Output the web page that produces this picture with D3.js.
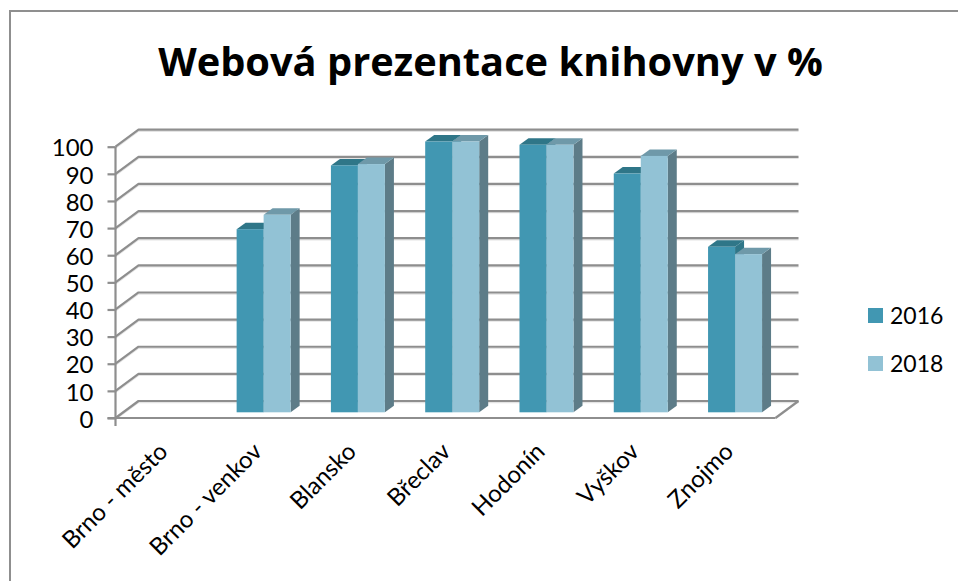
<!DOCTYPE html>
<html>
<head>
<meta charset="utf-8">
<script src="https://cdn.jsdelivr.net/npm/d3@7"></script>
<style>
  html, body { margin: 0; padding: 0; background: #fff; }
  svg { display: block; }
  text { fill: #000; }
</style>
</head>
<body>
<svg width="958" height="581"></svg>
<script>
// data
var categories = ["Brno - město", "Brno - venkov", "Blansko", "Břeclav", "Hodonín", "Vyškov", "Znojmo"];
var years = ["2016", "2018"];
var values2016 = [null, 67.5, 91, 99.8, 98.6, 88, 61];
var values2018 = [null, 72.8, 91.5, 99.8, 98.6, 94.5, 58.3];
var yTicks = [0, 10, 20, 30, 40, 50, 60, 70, 80, 90, 100];

var fontName = "Lato, 'Open Sans', sans-serif";
var titleFont = "'Open Sans', sans-serif";
var gridColor = "#8e8e8e";

// front face colours, then top and side of the 3d bars
var frontColors = ["#4197b2", "#92c2d5"];
var topColors = ["#2f7688", "#6f99a9"];
var sideColors = ["#2f7688", "#5d7c88"];

var svg = d3.select("svg");

// plot box of the front plane
var left = 115.5, right = 775.5, top0 = 146.7, bottom = 418;
// how far the back wall is shifted from the front plane
var wallDx = 23, wallDy = -17;
// bar depth and how far the bar stands from the front plane
var depthDx = 9, depthDy = -6.5;
var insetDx = 7, insetDy = -5.7;

var x = d3.scaleBand().domain(categories).range([left, right]);
var y = d3.scaleLinear().domain([0, 100]).range([bottom, top0]);
var barX = d3.scaleBand().domain(years).range([0, 54]);

/* outer frame, only left and top are visible */
svg.append("path")
  .attr("d", d3.line()([[10, 581], [10, 11], [958, 11]]))
  .attr("fill", "none")
  .attr("stroke", "#8f8f8f")
  .attr("stroke-width", 2);

svg.append("text")
  .attr("x", 490.5)
  .attr("y", 76)
  .attr("text-anchor", "middle")
  .attr("font-family", titleFont)
  .attr("font-weight", "bold")
  .attr("font-size", 39.8)
  .text("Webová prezentace knihovny v %");

/* back wall lines with the diagonal part running to the front */
var grid = svg.append("g").attr("fill", "none").attr("stroke-linejoin", "round");

function wallLine(d) {
  return d3.line()([[left, y(d)], [left + wallDx, y(d) + wallDy], [right + wallDx, y(d) + wallDy]]);
}

grid.selectAll(".glow").data(yTicks).enter().append("path")
  .attr("d", wallLine)
  .attr("transform", "translate(0,1.5)")
  .attr("stroke", "#e4e4e4")
  .attr("stroke-width", 1.5);

grid.selectAll(".line").data(yTicks).enter().append("path")
  .attr("d", wallLine)
  .attr("stroke", gridColor)
  .attr("stroke-width", 2.2);

// right edge of the floor
grid.append("path")
  .attr("d", d3.line()([[right, bottom], [right + wallDx, bottom + wallDy]]))
  .attr("stroke", gridColor)
  .attr("stroke-width", 2.2);

/* bars */
function drawBars(values, i) {
  var year = years[i];
  var rows = categories
    .map(function(c, k) { return { cat: c, val: values[k] }; })
    .filter(function(d) { return d.val != null; });

  var g = svg.append("g").attr("class", "bars" + year);

  function x0(d) {
    var groupStart = x(d.cat) + (x.bandwidth() - barX.range()[1]) / 2 + insetDx - 0.3;
    return groupStart + barX(year);
  }
  function y0(d) { return y(d.val) + insetDy; }
  function yBase() { return y(0) + insetDy; }

  // side face
  g.selectAll(".side").data(rows).enter().append("path")
    .attr("fill", sideColors[i])
    .attr("d", function(d) {
      var xr = x0(d) + barX.bandwidth();
      return d3.line()([[xr, y0(d)], [xr + depthDx, y0(d) + depthDy], [xr + depthDx, yBase() + depthDy], [xr, yBase()]]) + "Z";
    });

  // top face
  g.selectAll(".topface").data(rows).enter().append("path")
    .attr("fill", topColors[i])
    .attr("d", function(d) {
      var w = barX.bandwidth();
      return d3.line()([[x0(d), y0(d)], [x0(d) + depthDx, y0(d) + depthDy], [x0(d) + w + depthDx, y0(d) + depthDy], [x0(d) + w, y0(d)]]) + "Z";
    });

  // front face
  g.selectAll(".front").data(rows).enter().append("rect")
    .attr("x", x0)
    .attr("y", y0)
    .attr("width", barX.bandwidth())
    .attr("height", function(d) { return yBase() - y0(d); })
    .attr("fill", frontColors[i]);
}

drawBars(values2016, 0);
drawBars(values2018, 1);

/* axes, drawn over the diagonal lines */
var yAxis = d3.axisLeft(y).tickValues(yTicks).tickSize(8).tickPadding(14);
var yG = svg.append("g").attr("transform", "translate(" + left + ",0)").call(yAxis);

var xAxis = d3.axisBottom(x).tickSize(0).tickFormat("");
var xG = svg.append("g").attr("transform", "translate(0," + bottom + ")").call(xAxis);

// ticks on the category borders, not on the centres
xG.selectAll(".border").data(d3.range(categories.length + 1)).enter().append("line")
  .attr("x1", function(d) { return left + d * x.step(); })
  .attr("x2", function(d) { return left + d * x.step(); })
  .attr("y1", 0)
  .attr("y2", 8);

// extend the lines past the plot like the original does
yG.select(".domain").attr("d", d3.line()([[0, top0], [0, bottom + 8]]));
xG.select(".domain").attr("d", d3.line()([[left - 8, 0], [right, 0]]));

svg.selectAll(".domain, .tick line, .border")
  .attr("stroke", gridColor)
  .attr("stroke-width", 2.2);

yG.selectAll("text")
  .attr("font-family", fontName)
  .attr("font-size", 24)
  .attr("y", 1.5)
  .attr("fill", "#000");

svg.append("g").selectAll("text").data(categories).enter().append("text")
  .attr("text-anchor", "end")
  .attr("font-family", fontName)
  .attr("font-size", 24)
  .attr("transform", function(d) {
    return "translate(" + (x(d) + x.bandwidth() / 2 + 6.5) + "," + (bottom + 35) + ") rotate(-45)";
  })
  .text(function(d) { return d; });

/* legend */
var legendY = d3.scalePoint().domain(years).range([315.5, 363.5]);
var legend = svg.append("g").selectAll("g").data(years).enter().append("g")
  .attr("transform", function(d) { return "translate(868," + legendY(d) + ")"; });

legend.append("rect")
  .attr("y", -7.5)
  .attr("width", 15)
  .attr("height", 15)
  .attr("fill", function(d, i) { return frontColors[i]; });

legend.append("text")
  .attr("x", 22)
  .attr("y", 8)
  .attr("font-family", fontName)
  .attr("font-size", 23)
  .text(function(d) { return d; });
</script>
</body>
</html>
